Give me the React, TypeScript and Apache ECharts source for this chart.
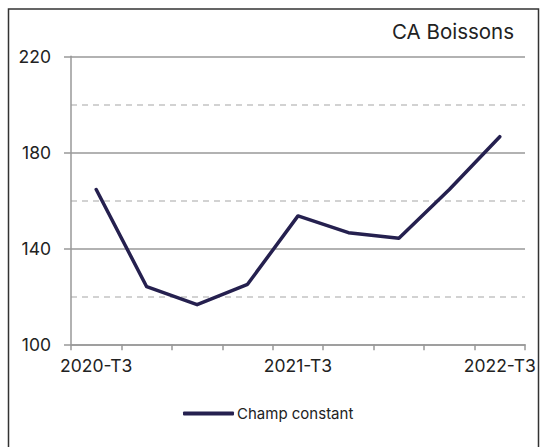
import React, { useEffect, useRef } from "react";
import * as echarts from "echarts";

const categories = [
  "2020-T3", "2020-T4", "2021-T1", "2021-T2", "2021-T3",
  "2021-T4", "2022-T1", "2022-T2", "2022-T3",
];
const champConstant = [164.5, 124, 116.5, 125, 153.5, 146.5, 144.2, 164.5, 186.5];
const yMin = 100;
const yMax = 220;
const yStep = 40;
const seriesName = "Champ constant";
const title = "CA Boissons";

const FONT = "Inter, 'Noto Sans', sans-serif";

export default function App() {
  const ref = useRef<HTMLDivElement>(null);
  useEffect(() => {
    if (!ref.current) return;
    const chart = echarts.init(ref.current, undefined, { renderer: "svg" });
    chart.setOption({
      animation: false,
      backgroundColor: "#ffffff",
      textStyle: { fontFamily: FONT },
      title: {
        text: title,
        right: 22,
        top: 16,
        textStyle: { fontFamily: FONT, fontSize: 20.5, fontWeight: "normal", color: "#222" },
      },
      graphic: [
        {
          type: "rect",
          shape: { x: 8.5, y: 9, width: 530, height: 470 },
          style: { fill: "none", stroke: "#333", lineWidth: 1.5 },
          silent: true,
        },
      ],
      legend: {
        bottom: 21,
        left: 178,
        icon: "roundRect",
        itemWidth: 51,
        itemHeight: 4,
        textStyle: { fontFamily: FONT, fontSize: 15, color: "#222", padding: [0, 0, 0, -2] },
        data: [seriesName],
      },
      grid: { left: 71, right: 16, top: 56.3, bottom: 102.7, containLabel: false },
      xAxis: {
        type: "category",
        data: categories,
        boundaryGap: true,
        axisLine: { lineStyle: { color: "#999", width: 1.5 } },
        axisTick: { show: true, interval: 0, length: 6, lineStyle: { color: "#999", width: 1.5 } },
        axisLabel: { interval: 3, margin: 12, fontSize: 17.5, color: "#222", fontFamily: FONT },
        splitLine: { show: false },
      },
      yAxis: {
        type: "value",
        min: 0,
        max: yMax - yMin,
        interval: yStep,
        axisLine: { show: true, lineStyle: { color: "#999", width: 1.5 } },
        axisTick: { show: true, length: 7, lineStyle: { color: "#999", width: 1.5 } },
        axisLabel: {
          margin: 20,
          fontSize: 17.5,
          color: "#222",
          fontFamily: FONT,
          formatter: (v: number) => String(v + yMin),
        },
        splitLine: { show: true, lineStyle: { color: "#999", width: 1.5 } },
        minorTick: { show: false, splitNumber: 2 },
        minorSplitLine: { show: true, lineStyle: { color: "#c4c4c4", width: 1.5, type: [6, 5] } },
      },
      series: [
        {
          name: seriesName,
          type: "line",
          data: champConstant.map((v) => v - yMin),
          showSymbol: false,
          symbol: "none",
          lineStyle: { color: "#25204f", width: 3.5, cap: "round", join: "round" },
          itemStyle: { color: "#25204f" },
          z: 5,
        },
      ],
    });
    return () => chart.dispose();
  }, []);
  return (
    <div
      ref={ref}
      style={{ position: "fixed", left: 0, top: 0, width: 541, height: 447 }}
    />
  );
}
